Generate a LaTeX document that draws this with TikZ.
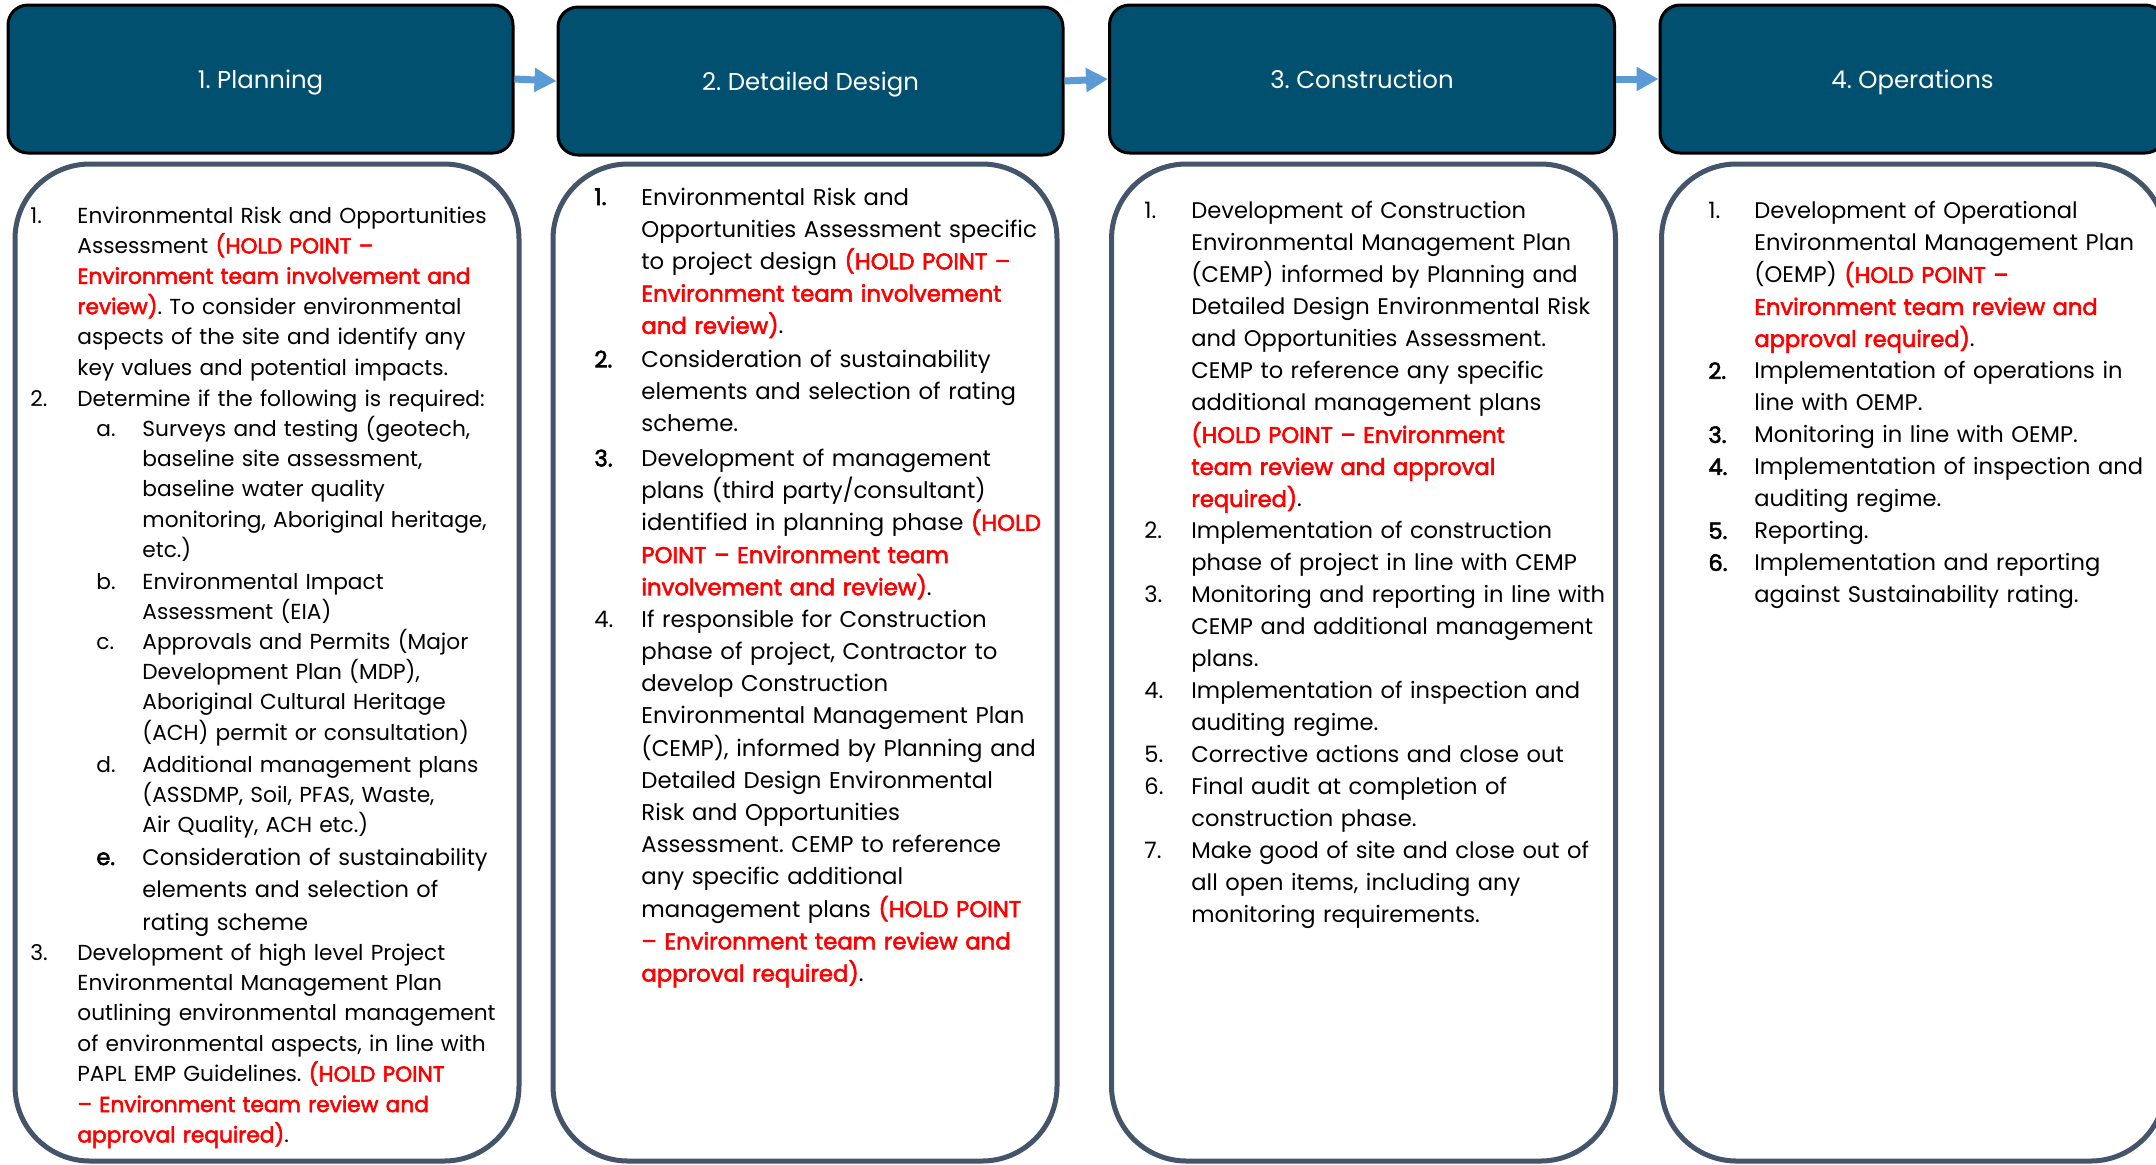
\documentclass[tikz,border=0pt]{standalone}
\usepackage{fontspec}
\setmainfont{Poppins}
\newfontfamily\semib[FakeBold=2.5]{Poppins}
\usetikzlibrary{arrows.meta}
\definecolor{phasefill}{HTML}{02506F}
\definecolor{boxline}{HTML}{44546A}
\definecolor{flowblue}{HTML}{5B9BD5}
\definecolor{holdred}{HTML}{FF0000}
\frenchspacing
\newcommand\hp[1]{{\color{holdred}\semib #1}}
\newcommand\colA{\fontsize{10.85}{15.2}\selectfont}
\newcommand\colB{\fontsize{11.4}{16.1}\selectfont}
\newcommand\colC{\fontsize{11.3}{16}\selectfont}
\newcommand\colE{\fontsize{11.27}{16.25}\selectfont}
\newcommand\phasetext[1]{\raisebox{-4.5pt}[0pt][0pt]{#1}}
\begin{document}
\begin{tikzpicture}[x=0.5pt,y=-0.5pt,
  phase/.style={draw=black, line width=1.5pt, fill=phasefill, rounded corners=10pt,
    minimum width=252.5pt, minimum height=74pt, inner sep=0pt, text=white,
    font=\fontsize{12.2}{14}\selectfont},
  panel/.style={draw=boxline, line width=2.5pt, rounded corners=37.5pt,
    minimum width=252pt, minimum height=498.5pt, inner sep=0pt},
  flow/.style={draw=flowblue, line width=3.5pt,
    -{Triangle[length=11pt,width=11.5pt]}},
  num/.style={anchor=base west, inner sep=0pt},
  body/.style={anchor=base west, inner sep=0pt, text width=250pt, align=left}]
\useasboundingbox (0,0) rectangle (2156,1164);
\clip (0,0) rectangle (2156,1164);
\fill[white] (0,0) rectangle (2156,1164);

% content panels
\node[panel] (b1) at (267,662.5) {};
\node[panel] (b2) at (805,662.5) {};
\node[panel] (b3) at (1363.5,662.5) {};
\node[panel] (b4) at (1913.5,662.5) {};

% phase headers
\node[phase] (h1) at (260.5,79) {\phasetext{1. Planning}};
\node[phase] (h2) at (810.5,81) {\phasetext{2. Detailed Design}};
\node[phase] (h3) at (1362,79) {\phasetext{3. Construction}};
\node[phase] (h4) at (1912.5,79) {\phasetext{4. Operations}};

% flow between phases
\draw[flow] (h1.east) -- (h2.west);
\draw[flow] (h2.east) -- (h3.west);
\draw[flow] (h3.east) -- (h4.west);

% ---------- Planning ----------
\node[num, font=\colA] (p1n) at (30,223) {1.};
\node[body, font=\colA] (p1t) at (77,223) {Environmental Risk and Opportunities\\
Assessment \hp{(HOLD POINT –}\\
\hp{Environment team involvement and}\\
\hp{review)}. To consider environmental\\
aspects of the site and identify any\\
key values and potential impacts.};
\node[num, font=\colA] (p2n) at (30,406) {2.};
\node[body, font=\colA] (p2t) at (77,406) {Determine if the following is required:};
\node[num, font=\colA] (pan) at (96,436) {a.};
\node[body, font=\colA] (pat) at (142,436) {Surveys and testing (geotech,\\
baseline site assessment,\\
baseline water quality\\
monitoring, Aboriginal heritage,\\
etc.)};
\node[num, font=\colA] (pbn) at (96,589) {b.};
\node[body, font=\colA] (pbt) at (142,589) {Environmental Impact\\
Assessment (EIA)};
\node[num, font=\colA] (pcn) at (96,649) {c.};
\node[body, font=\colA] (pct) at (142,649) {Approvals and Permits (Major\\
Development Plan (MDP),\\
Aboriginal Cultural Heritage\\
(ACH) permit or consultation)};
\node[num, font=\colA] (pdn) at (96,772) {d.};
\node[body, font=\colA] (pdt) at (142,772) {Additional management plans\\
(ASSDMP, Soil, PFAS, Waste,\\
Air Quality, ACH etc.)};
\node[num, font=\colE\semib] (pen) at (96,865) {e.};
\node[body, font=\colE] (pet) at (142,865) {Consideration of sustainability\\
elements and selection of\\
rating scheme};
\node[num, font=\colA] (p3n) at (30,960) {3.};
\node[body, font=\colA] (p3t) at (77,960) {Development of high level Project\\
Environmental Management Plan\\
outlining environmental management\\
of environmental aspects, in line with\\
PAPL EMP Guidelines. \hp{(HOLD POINT}\\
\hp{– Environment team review and}\\
\hp{approval required)}.};

% ---------- Detailed Design ----------
\node[num, font=\colB\semib] (d1n) at (594,205) {1.};
\node[body, font=\colB] (d1t) at (641,205) {Environmental Risk and\\
Opportunities Assessment specific\\
to project design \hp{(HOLD POINT –}\\
\hp{Environment team involvement}\\
\hp{and review)}.};
\node[num, font=\colB\semib] (d2n) at (594,367.4) {2.};
\node[body, font=\colB] (d2t) at (641,367.4) {Consideration of sustainability\\
elements and selection of rating\\
scheme.};
\node[num, font=\colB\semib] (d3n) at (594,466.4) {3.};
\node[body, font=\colB] (d3t) at (641,466.4) {Development of management\\
plans (third party/consultant)\\
identified in planning phase \hp{(HOLD}\\
\hp{POINT – Environment team}\\
\hp{involvement and review)}.};
\node[num, font=\colB] (d4n) at (594,627.3) {4.};
\node[body, font=\colB] (d4t) at (641,627.3) {If responsible for Construction\\
phase of project, Contractor to\\
develop Construction\\
Environmental Management Plan\\
(CEMP), informed by Planning and\\
Detailed Design Environmental\\
Risk and Opportunities\\
Assessment. CEMP to reference\\
any specific additional\\
management plans \hp{(HOLD POINT}\\
\hp{– Environment team review and}\\
\hp{approval required)}.};

% ---------- Construction ----------
\node[num, font=\colC] (c1n) at (1144,218.9) {1.};
\node[body, font=\colC] (c1t) at (1191,218.9) {Development of Construction\\
Environmental Management Plan\\
(CEMP) informed by Planning and\\
Detailed Design Environmental Risk\\
and Opportunities Assessment.\\
CEMP to reference any specific\\
additional management plans\\
\hp{(HOLD POINT – Environment}\\
\hp{team review and approval}\\
\hp{required)}.};
\node[num, font=\colC] (c2n) at (1144,538.9) {2.};
\node[body, font=\colC] (c2t) at (1191,538.9) {Implementation of construction\\
phase of project in line with CEMP};
\node[num, font=\colC] (c3n) at (1144,602.9) {3.};
\node[body, font=\colC] (c3t) at (1191,602.9) {Monitoring and reporting in line with\\
CEMP and additional management\\
plans.};
\node[num, font=\colC] (c4n) at (1144,698.9) {4.};
\node[body, font=\colC] (c4t) at (1191,698.9) {Implementation of inspection and\\
auditing regime.};
\node[num, font=\colC] (c5n) at (1144,762.9) {5.};
\node[body, font=\colC] (c5t) at (1191,762.9) {Corrective actions and close out};
\node[num, font=\colC] (c6n) at (1144,794.9) {6.};
\node[body, font=\colC] (c6t) at (1191,794.9) {Final audit at completion of\\
construction phase.};
\node[num, font=\colC] (c7n) at (1144,858.9) {7.};
\node[body, font=\colC] (c7t) at (1191,858.9) {Make good of site and close out of\\
all open items, including any\\
monitoring requirements.};

% ---------- Operations ----------
\node[num, font=\colC] (o1n) at (1708,218.9) {1.};
\node[body, font=\colC] (o1t) at (1754,218.9) {Development of Operational\\
Environmental Management Plan\\
(OEMP) \hp{(HOLD POINT –}\\
\hp{Environment team review and}\\
\hp{approval required)}.};
\node[num, font=\colC\semib] (o2n) at (1708,378.9) {2.};
\node[body, font=\colC] (o2t) at (1754,378.9) {Implementation of operations in\\
line with OEMP.};
\node[num, font=\colC\semib] (o3n) at (1708,442.9) {3.};
\node[body, font=\colC] (o3t) at (1754,442.9) {Monitoring in line with OEMP.};
\node[num, font=\colC\semib] (o4n) at (1708,474.9) {4.};
\node[body, font=\colC] (o4t) at (1754,474.9) {Implementation of inspection and\\
auditing regime.};
\node[num, font=\colC\semib] (o5n) at (1708,538.9) {5.};
\node[body, font=\colC] (o5t) at (1754,538.9) {Reporting.};
\node[num, font=\colC\semib] (o6n) at (1708,570.9) {6.};
\node[body, font=\colC] (o6t) at (1754,570.9) {Implementation and reporting\\
against Sustainability rating.};
\end{tikzpicture}
\end{document}
